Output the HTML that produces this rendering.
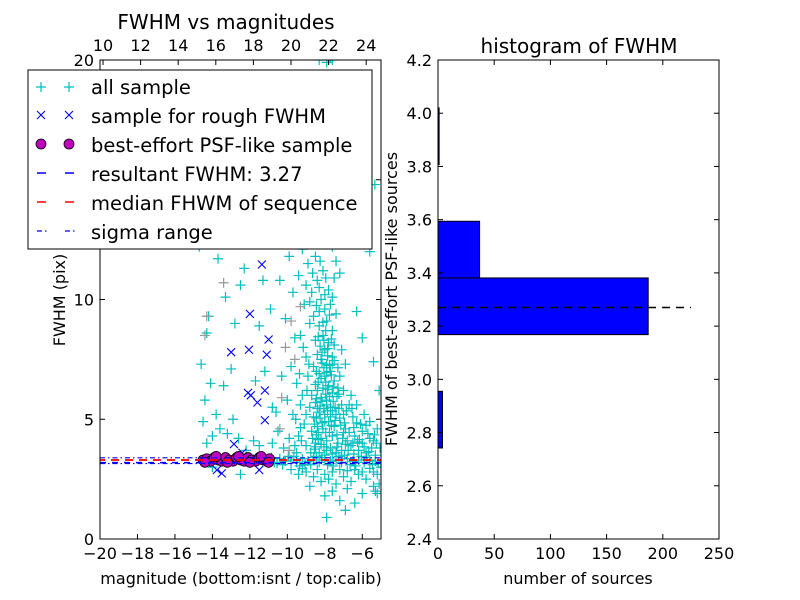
<!DOCTYPE html>
<html><head><meta charset="utf-8"><style>
html,body{margin:0;padding:0;background:#fff}
svg{display:block;font-family:"DejaVu Sans","Liberation Sans",sans-serif}
</style></head><body>
<svg id="c" width="800" height="600" viewBox="0 0 800 600" xmlns="http://www.w3.org/2000/svg">
<rect width="800" height="600" fill="#fff"/>
<g id="L"></g>
<g id="R"></g>
</svg>
<script>
// ---- data ----
const allSample = [
[-8.6,3.4],[-8.3,3.6],[-8.0,3.5],[-7.7,3.8],[-7.4,3.6],[-8.5,4.0],[-8.2,4.2],[-7.9,4.1],[-7.6,4.3],[-7.3,4.0],
[-8.7,4.5],[-8.4,4.7],[-8.1,4.6],[-7.8,4.9],[-7.5,4.7],[-8.6,5.1],[-8.3,5.3],[-8.0,5.2],[-7.7,5.5],[-7.4,5.2],
[-8.5,5.7],[-8.2,5.9],[-7.9,5.8],[-7.6,6.1],[-7.8,6.4],[-8.1,6.3],[-8.4,6.2],[-7.5,6.6],[-8.0,6.8],[-7.7,7.0],
[-8.3,6.9],[-7.9,7.3],[-8.2,7.5],[-7.6,7.6],[-8.0,7.9],[-8.4,7.7],[-7.8,8.2],[-8.1,8.5],[-8.5,8.3],[-7.6,8.7],
[-8.3,8.9],[-7.9,9.1],[-8.6,9.3],[-8.0,9.6],[-8.8,9.0],[-7.4,9.4],[-8.2,10.0],[-8.7,10.3],[-7.8,10.4],[-8.4,10.8],
[-9.0,10.6],[-7.5,10.9],[-8.1,11.2],[-8.9,11.5],[-7.2,11.1],[-8.5,11.8],[-9.2,12.1],[-8.0,12.3],[-8.6,12.6],[-7.6,12.2],
[-9.4,11.0],[-9.1,9.8],[-9.3,8.5],[-9.0,7.6],[-8.9,6.8],[-9.2,6.0],[-8.8,5.5],[-9.1,4.8],[-9.4,4.3],[-9.0,3.9],
[-8.45,4.35],[-8.15,4.85],[-7.85,5.35],[-7.55,5.75],[-8.25,5.55],[-7.95,6.05],[-8.35,6.55],[-7.65,6.85],[-8.05,7.15],[-7.85,7.65],
[-8.25,8.05],[-7.75,4.45],[-7.45,4.95],[-8.05,3.85],[-7.35,4.35],[-7.15,4.75],[-7.25,5.45],[-6.9,4.6],[-6.8,4.1],[-7.0,5.2],
[-7.1,3.7],[-6.6,3.9],[-6.4,4.3],[-6.2,3.7],[-6.0,4.0],[-5.8,3.6],[-5.5,3.8],[-5.3,3.5],[-5.7,4.4],[-6.1,4.8],
[-6.5,5.1],[-6.7,5.6],[-7.0,6.2],[-7.2,6.8],[-6.9,7.3],[-7.1,7.9],[-6.6,6.0],[-6.3,5.6],[-5.9,5.2],[-5.6,4.9],
[-5.2,4.6],[-5.4,4.1],[-8.55,3.75],[-8.35,4.15],[-7.95,4.45],[-7.65,4.75],[-8.45,5.05],[-8.05,5.45],[-7.75,5.95],[-8.45,5.85],
[-7.95,6.55],[-8.15,7.35],[-7.75,7.25],[-8.05,8.3],[-7.7,9.8],[-8.3,9.5],[-7.5,8.1],[-8.6,7.2],[-8.7,6.0],[-7.3,6.3],
[-8.75,3.6],[-8.5,3.85],[-8.2,3.95],[-7.9,3.7],[-7.6,3.55],[-7.35,3.85],[-7.05,4.2],[-6.75,3.7],[-6.45,3.55],[-6.15,4.15],
[-5.9,3.85],[-5.65,3.65],[-5.35,4.35],[-5.05,3.8],[-8.65,4.2],[-8.35,4.45],[-8.0,4.9],[-7.7,5.1],[-7.45,5.5],[-7.2,5.05],
[-6.95,4.85],[-6.7,4.45],[-6.45,4.65],[-6.25,4.05],[-8.55,4.8],[-8.25,5.05],[-7.9,5.6],[-7.6,5.35],[-7.35,5.95],[-7.1,5.6],
[-6.85,5.35],[-6.55,5.45],[-8.4,5.45],[-8.15,5.75],[-7.85,6.25],[-7.55,6.35],[-7.25,6.05],[-8.5,6.45],[-8.2,6.7],[-7.9,6.95],
[-7.6,7.3],[-7.3,7.15],[-8.45,7.0],[-8.15,7.8],[-7.85,7.95],[-7.5,7.45],[-8.35,8.45],[-7.95,8.7],[-7.65,8.35],[-8.1,9.05],
[-7.75,9.35],[-8.45,9.75],[-8.0,10.2],[-7.6,10.1],[-8.3,10.5],[-8.8,9.9],[-7.95,10.9],[-8.65,11.1],[-7.4,11.6],[-8.25,11.6],
[-9.5,3.6],[-9.25,4.1],[-9.3,4.65],[-9.55,5.0],[-9.0,5.2],[-9.3,5.6],[-8.95,6.2],[-9.35,6.9],[-8.85,7.3],[-9.15,8.0],
[-6.9,3.95],[-6.5,4.0],[-6.0,4.5],[-5.6,4.2],[-5.25,4.0],[-7.0,4.45],[-6.3,4.85],[-5.8,4.75],
[-9.8,2.9],[-9.4,2.7],[-9.0,2.8],[-8.6,2.6],[-8.2,2.4],[-7.8,2.5],[-7.4,2.3],[-7.0,2.6],[-6.6,2.4],[-6.2,2.7],
[-5.8,2.5],[-5.4,2.8],[-5.1,2.3],[-8.8,2.2],[-7.6,2.0],[-6.8,2.1],[-6.0,1.9],[-5.3,2.0],[-7.2,1.6],[-8.0,1.8],
[-6.4,1.5],[-9.6,3.9],[-9.9,4.2],[-10.2,3.8],[-10.5,4.5],[-9.7,5.2],[-10.0,5.8],[-9.5,6.5],[-9.8,7.2],[-10.3,6.8],
[-10.6,5.3],[-10.8,4.0],[-9.6,8.4],[-10.1,9.2],[-9.7,10.3],[-10.4,10.8],[-9.9,11.8],[-10.6,12.4],[-9.5,12.8],
[-8.4,2.9],[-7.6,2.8],[-6.8,2.85],[-6.0,2.8],[-5.2,2.7],[-8.0,2.7],[-7.2,2.9],[-6.4,2.9],[-5.6,2.95],[-9.2,2.95],
[-11.0,3.3],[-10.7,3.2],[-10.4,3.35],[-10.1,3.25],[-9.8,3.3],[-9.5,3.2],[-9.2,3.35],[-8.9,3.25],[-8.6,3.3],[-8.3,3.2],
[-8.0,3.3],[-7.7,3.25],[-7.4,3.3],[-7.1,3.2],[-6.8,3.35],[-6.5,3.25],[-6.2,3.3],[-5.9,3.2],[-5.6,3.3],[-5.3,3.25],
[-10.85,3.4],[-10.25,3.1],[-9.65,3.45],[-9.05,3.1],[-8.45,3.45],[-7.85,3.1],[-7.25,3.45],[-6.65,3.1],[-6.05,3.45],[-5.45,3.1],
[-10.55,3.15],[-9.95,3.45],[-9.35,3.05],[-8.75,3.1],[-8.15,3.4],[-7.55,3.05],[-6.95,3.5],[-6.35,3.05],[-5.75,3.4],[-5.15,3.15],
[-14.3,8.6],[-14.2,9.3],[-14.6,7.3],[-14.1,6.5],[-14.4,5.8],[-14.5,4.9],[-14.3,4.0],[-14.0,4.3],[-13.6,4.6],[-13.2,4.4],
[-13.8,5.2],[-12.9,5.0],[-13.4,6.4],[-13.0,7.1],[-12.6,4.2],[-13.0,12.3],[-13.7,11.7],[-14.7,12.2],[-12.3,11.3],[-13.3,10.1],
[-12.5,10.6],[-11.3,10.8],[-10.9,9.6],[-11.5,8.9],[-12.8,9.0],[-11.7,6.6],[-11.2,7.0],[-10.8,5.5],[-12.2,3.7],[-11.8,4.1],
[-11.5,3.9],[-13.6,3.4],[-14.0,3.0],[-12.5,2.7],
[-7.8,20],[-7.6,20],[-7.9,19.9],[-8.3,20],[-7.7,20.1],[-5.33,14.8],[-8.6,13.5],[-7.9,14.2],[-9.1,13.2],[-6.8,13.0],
[-5.6,12.0],[-6.3,9.5],[-5.4,7.4],[-5.1,6.2],[-6.0,8.4],[-5.2,1.9],[-5.4,2.2],[-5.0,3.0],[-6.9,1.2],[-7.9,0.9]
];
const rejectedSample = [[-9.8,9.1],[-9.3,9.7],[-10.1,8.0],[-9.6,7.5],[-10.3,5.9],[-14.3,9.3],[-14.4,8.5],[-13.4,10.7],[-10.4,4.6],[-9.9,3.7]];
const roughSample = [[-11.36,11.46],[-12.0,9.4],[-11.0,8.33],[-13.0,7.8],[-12.05,7.9],[-11.1,7.7],[-12.1,6.1],[-11.95,6.0],
[-11.6,5.7],[-11.2,6.2],[-11.2,4.96],[-12.85,3.96],[-12.4,3.6],[-13.76,2.88],[-13.5,2.74],[-11.5,2.88],[-14.3,3.3],[-12.6,3.25],[-11.6,3.35]];
const psfSample = [[-14.5,3.3],[-14.3,3.35],[-14.1,3.25],[-13.9,3.4],[-13.7,3.3],[-13.5,3.25],[-13.3,3.4],[-13.1,3.3],[-12.9,3.25],
[-12.7,3.4],[-12.5,3.3],[-12.3,3.25],[-12.1,3.4],[-11.9,3.3],[-11.7,3.25],[-11.5,3.4],[-11.3,3.3],[-11.1,3.25],[-10.95,3.35],
[-14.4,3.2],[-13.8,3.45],[-13.2,3.2],[-12.6,3.45],[-12.0,3.2],[-11.4,3.45],[-11.0,3.2]];
const resultFWHM = 3.27;
const medianFWHM = 3.30;
const sigmaRange = [3.15, 3.39];
const xTicksBottom = [-20,-18,-16,-14,-12,-10,-8,-6];
const xTicksTop = [10,12,14,16,18,20,22,24];
const yTicksLeft = [0,5,10,15,20];
const binEdges = [2.742,2.955,3.168,3.381,3.594,3.807,4.02];
const binCounts = [4,0,187,37,0,1];
const histXTicks = [0,50,100,150,200,250];
const histYTicks = [2.4,2.6,2.8,3.0,3.2,3.4,3.6,3.8,4.0,4.2];

// ---- axes ----
const L = {x0:100,x1:381,y0:60,y1:539};
const sx = v => L.x0 + (v+20)/15*(L.x1-L.x0);
const sxTop = v => 103 + (v-10)*18.8;
const sy = v => L.y1 - v/20*(L.y1-L.y0);
const R = {x0:438,x1:719,y0:60,y1:539};
const hx = v => R.x0 + v/250*(R.x1-R.x0);
const hy = v => R.y1 - (v-2.4)/1.8*(R.y1-R.y0);
const NS='http://www.w3.org/2000/svg';
function mk(parent,tag,attrs,text){const e=document.createElementNS(NS,tag);for(const k in attrs)e.setAttribute(k,attrs[k]);if(text!==undefined)e.textContent=text;parent.appendChild(e);return e;}
const gL=document.getElementById('L'), gR=document.getElementById('R');

function plus(g,x,y,c){return mk(g,'path',{d:`M${x-5},${y}h10M${x},${y-5}v10`,stroke:c,'stroke-width':1.2,fill:'none'});}
const defs=mk(document.getElementById('c'),'defs',{});
const cp=mk(defs,'clipPath',{id:'clipL'});mk(cp,'rect',{x:L.x0,y:L.y0,width:L.x1-L.x0,height:L.y1-L.y0});
const pts=mk(gL,'g',{'clip-path':'url(#clipL)'});


allSample.forEach(d=>{const p=plus(pts,sx(d[0]),sy(d[1]),'#00bfbf');

});
rejectedSample.forEach(d=>{const p=plus(pts,sx(d[0]),sy(d[1]),'#999');

});
roughSample.forEach(d=>{const x=sx(d[0]),y=sy(d[1]);const p=mk(pts,'path',{d:`M${x-4},${y-4}l8,8M${x-4},${y+4}l8,-8`,stroke:'#0000ff','stroke-width':1.1,fill:'none'});

});
psfSample.forEach(d=>{const c=mk(pts,'circle',{cx:sx(d[0]),cy:sy(d[1]),r:5,fill:'#bf00bf',stroke:'#000','stroke-width':0.8});

});
const l1=mk(pts,'line',{x1:L.x0,x2:L.x1,y1:sy(resultFWHM)+2,y2:sy(resultFWHM)+2,stroke:'#0000ff','stroke-width':1.5,'stroke-dasharray':'6,6'});


const l2=mk(pts,'line',{x1:L.x0,x2:L.x1,y1:sy(medianFWHM),y2:sy(medianFWHM),stroke:'#ff0000','stroke-width':1.8,'stroke-dasharray':'8,6','stroke-dashoffset':3});


sigmaRange.forEach(v=>{const l=mk(pts,'line',{x1:L.x0,x2:L.x1,y1:sy(v),y2:sy(v),stroke:'#0000ff','stroke-width':1.2,'stroke-dasharray':'5,3,1.5,3'});

});

const fr=mk(gL,'rect',{x:L.x0,y:L.y0,width:L.x1-L.x0,height:L.y1-L.y0,fill:'none',stroke:'#000','stroke-width':1});


xTicksBottom.forEach(v=>{const x=sx(v);mk(gL,'line',{x1:x,x2:x,y1:L.y1,y2:L.y1-5,stroke:'#000'});
const t=mk(gL,'text',{x:x,y:559,'text-anchor':'middle','font-size':16},v<0?'\u2212'+(-v):v);

});
xTicksTop.forEach(v=>{const x=sxTop(v);mk(gL,'line',{x1:x,x2:x,y1:L.y0,y2:L.y0+5,stroke:'#000'});
const t=mk(gL,'text',{x:x,y:51,'text-anchor':'middle','font-size':16},v);

});
yTicksLeft.forEach(v=>{const y=sy(v);mk(gL,'line',{x1:L.x0,x2:L.x0+5,y1:y,y2:y,stroke:'#000'});mk(gL,'line',{x1:L.x1,x2:L.x1-5,y1:y,y2:y,stroke:'#000'});
const t=mk(gL,'text',{x:94,y:y+6,'text-anchor':'end','font-size':16},v);

});

const bars=mk(gR,'g',{});


binCounts.forEach((c,i)=>{if(c<=0)return;const y1=hy(binEdges[i+1]),y2=hy(binEdges[i]);
const b=mk(bars,'rect',{x:hx(0),y:y1,width:hx(c)-hx(0),height:y2-y1,fill:'#0000ff',stroke:'#000','stroke-width':1});

});
const hl=mk(gR,'line',{x1:hx(0),x2:hx(225),y1:hy(resultFWHM),y2:hy(resultFWHM),stroke:'#000','stroke-width':1.5,'stroke-dasharray':'8,6'});


const fr2=mk(gR,'rect',{x:R.x0,y:R.y0,width:R.x1-R.x0,height:R.y1-R.y0,fill:'none',stroke:'#000','stroke-width':1});


histXTicks.forEach(v=>{const x=hx(v);mk(gR,'line',{x1:x,x2:x,y1:R.y1,y2:R.y1-5,stroke:'#000'});mk(gR,'line',{x1:x,x2:x,y1:R.y0,y2:R.y0+5,stroke:'#000'});
const t=mk(gR,'text',{x:x,y:559,'text-anchor':'middle','font-size':16},v);

});
histYTicks.forEach(v=>{const y=hy(v);mk(gR,'line',{x1:R.x0,x2:R.x0+5,y1:y,y2:y,stroke:'#000'});mk(gR,'line',{x1:R.x1,x2:R.x1-5,y1:y,y2:y,stroke:'#000'});
const t=mk(gR,'text',{x:432,y:y+6,'text-anchor':'end','font-size':16},v.toFixed(1));

});
</script>
<script>
(function(){
const svg=document.getElementById('c');const NS='http://www.w3.org/2000/svg';
function t(x,y,s,txt,name,extra){const e=document.createElementNS(NS,'text');e.setAttribute('x',x);e.setAttribute('y',y);e.setAttribute('font-size',s);e.setAttribute('text-anchor','middle');if(extra)e.setAttribute('transform',extra);e.textContent=txt;


svg.appendChild(e);return e;}
t(226,29,20,'FWHM vs magnitudes','scatter-title');
t(579,53,20,'histogram of FWHM','histogram-title');
t(241,584,16,'magnitude (bottom:isnt / top:calib)','x-axis-title');
t(578,584,16,'number of sources','hist-x-axis-title');
t(65,300,16,'FWHM (pix)','y-axis-title','rotate(-90 65 300)');
t(397,299,16,'FWHM of best-effort PSF-like sources','hist-y-axis-title','rotate(-90 397 299)');
const g=document.createElementNS(NS,'g');


svg.appendChild(g);
g.innerHTML=`<rect x="28" y="70" width="344" height="179" fill="#fff" stroke="#000" stroke-width="1"/>
<path d="M36,87h10M41,82v10M64,87h10M69,82v10" stroke="#00bfbf" stroke-width="1.2" fill="none"/>
<path d="M37,111l8,8M37,119l8,-8M65,111l8,8M65,119l8,-8" stroke="#00f" stroke-width="1.1" fill="none"/>
<circle cx="41" cy="144" r="5" fill="#bf00bf" stroke="#000" stroke-width="0.8"/><circle cx="69" cy="144" r="5" fill="#bf00bf" stroke="#000" stroke-width="0.8"/>
<path d="M37,173h9M65,173h9" stroke="#00f" stroke-width="1.5"/>
<path d="M37,202h9M65,202h9" stroke="#f00" stroke-width="1.5"/>
<path d="M37,231h5M45,231h1.5M65,231h5M73,231h1.5" stroke="#00f" stroke-width="1.2"/>
<g font-size="19.5"><text x="91" y="94">all sample</text><text x="91" y="123">sample for rough FWHM</text><text x="91" y="152">best-effort PSF-like sample</text><text x="91" y="181">resultant FWHM: 3.27</text><text x="91" y="210">median FHWM of sequence</text><text x="91" y="239">sigma range</text></g>`;
})();
</script>
</body></html>
